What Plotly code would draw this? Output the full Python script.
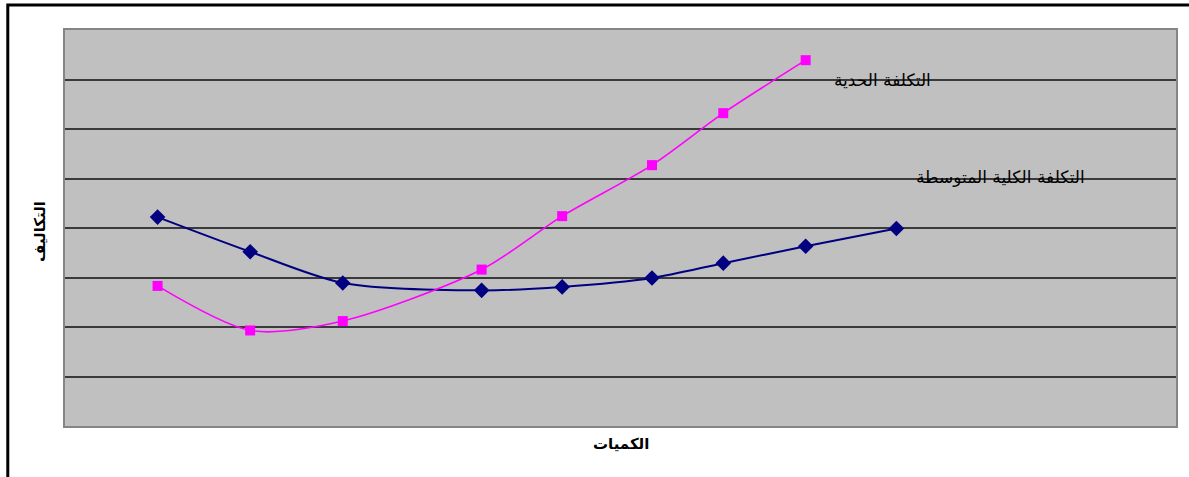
import plotly.graph_objects as go

# Quantities (x) and costs (y)
quantities_atc = [1.0, 2.0, 3.0, 4.5, 5.37, 6.34, 7.11, 8.0, 8.98]
atc_values = [42.2, 35.2, 28.9, 27.4, 28.1, 29.9, 32.9, 36.3, 39.9]

quantities_mc = [1.0, 2.0, 3.0, 4.5, 5.37, 6.34, 7.11, 8.0]
mc_values = [28.3, 19.3, 21.2, 31.6, 42.4, 52.7, 63.2, 73.9]

label_mc = "التكلفة الحدية"
label_atc = "التكلفة الكلية المتوسطة"
x_title = "الكميات"
y_title = "التكاليف"

FONT = "DejaVu Sans, Arial, sans-serif"

fig = go.Figure()
fig.add_trace(go.Scatter(
    x=quantities_atc, y=atc_values, mode="lines+markers",
    line=dict(color="#000080", width=2, shape="spline", smoothing=0.8),
    marker=dict(symbol="diamond", size=12, color="#000080"),
    showlegend=False,
))
fig.add_trace(go.Scatter(
    x=quantities_mc, y=mc_values, mode="lines+markers",
    line=dict(color="#FF00FF", width=1.6, shape="spline", smoothing=0.8),
    marker=dict(symbol="square", size=10, color="#FF00FF"),
    showlegend=False,
))

fig.add_annotation(x=9.375, y=69.9, xref="x", yref="y", text=label_mc,
                   showarrow=False, xanchor="right", yanchor="middle",
                   font=dict(family=FONT, size=17, color="black"))
fig.add_annotation(x=11.035, y=50.3, xref="x", yref="y", text=label_atc,
                   showarrow=False, xanchor="right", yanchor="middle",
                   font=dict(family=FONT, size=17, color="black"))

fig.add_annotation(x=-0.0225, y=0.49, xref="paper", yref="paper", text="<b>" + y_title + "</b>",
                   showarrow=False, textangle=-90, xanchor="center", yanchor="middle",
                   font=dict(family=FONT, size=15, color="black"))
fig.add_annotation(x=0.5, y=-0.045, xref="paper", yref="paper", text="<b>" + x_title + "</b>",
                   showarrow=False, xanchor="center", yanchor="middle",
                   font=dict(family=FONT, size=15, color="black"))

# outer frame
fig.add_shape(type="rect", xref="paper", yref="paper",
              x0=-0.0515, x1=1.02, y0=-0.2, y1=1.063,
              line=dict(color="black", width=3), layer="above")

fig.update_layout(
    width=1189, height=477,
    margin=dict(l=65, r=13, t=30, b=51),
    paper_bgcolor="white", plot_bgcolor="#C0C0C0",
    font=dict(family=FONT),
)
fig.update_xaxes(range=[0, 12], showgrid=False, zeroline=False, showticklabels=False,
                 ticks="", showline=True, mirror=True, linecolor="#858585", linewidth=2)
fig.update_yaxes(range=[0, 80], dtick=10, showgrid=True, gridcolor="#3a3a3a", gridwidth=1.5,
                 zeroline=False, showticklabels=False, ticks="",
                 showline=True, mirror=True, linecolor="#858585", linewidth=2)

fig.write_html("out.html")
